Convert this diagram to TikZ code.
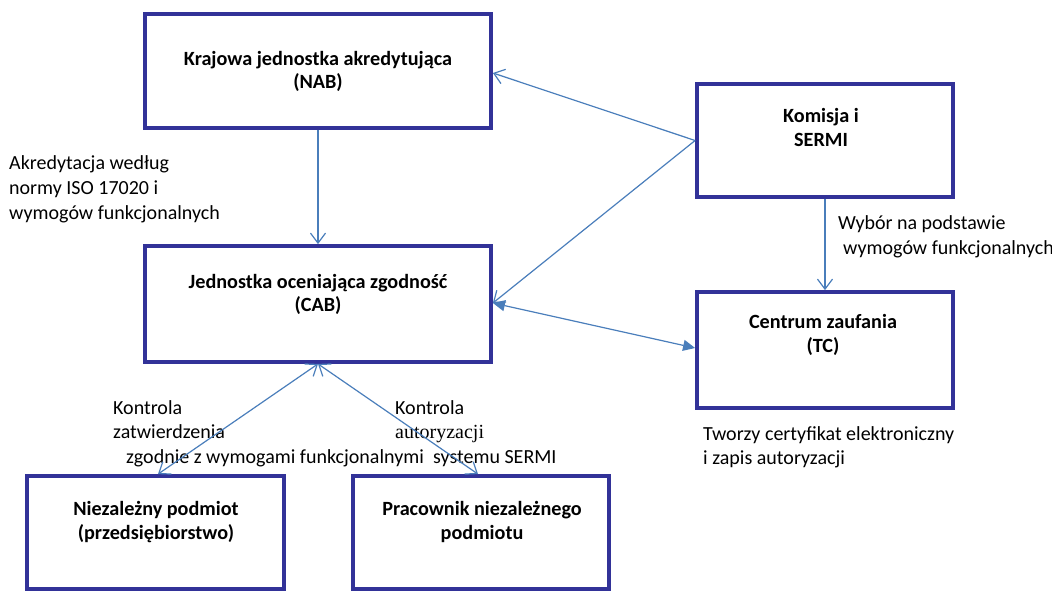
\documentclass[tikz,border=0pt]{standalone}
\usepackage{fontspec}
\setmainfont{Carlito}
\newfontfamily\serifalt{Liberation Serif}
\usetikzlibrary{arrows.meta}
\definecolor{boxblue}{RGB}{50,50,152}
\definecolor{arrblue}{RGB}{74,126,187}
\tikzset{
  box/.style={draw=boxblue, line width=3.8pt, fill=none, inner sep=0pt},
  btxt/.style={anchor=base, inner sep=0pt, font=\fontsize{20.2}{23}\selectfont\bfseries},
  ltxt/.style={anchor=base west, inner sep=0pt, font=\fontsize{20}{25}\selectfont},
  conn/.style={draw=arrblue, line width=1.2pt},
  openhead/.style={-{Straight Barb[length=10pt,width=15pt,line width=1.2pt]}},
  openboth/.style={{Straight Barb[length=10pt,width=15pt,line width=1.2pt]}-{Straight Barb[length=10pt,width=15pt,line width=1.2pt]}},
  fillboth/.style={{Triangle[length=12pt,width=11pt]}-{Triangle[length=12pt,width=11pt]}}
}
\begin{document}
\begin{tikzpicture}[x=1pt,y=-1pt]
\useasboundingbox (0,0) rectangle (1052,590);
% boxes
\node[box, minimum width=346pt, minimum height=114pt] (nab) at (318,71) {};
\node[box, minimum width=346pt, minimum height=116pt] (cab) at (318,304) {};
\node[box, minimum width=256pt, minimum height=113pt] (kom) at (825,140.5) {};
\node[box, minimum width=256pt, minimum height=116pt] (tc) at (825,350) {};
\node[box, minimum width=257pt, minimum height=113pt] (niez) at (155.5,532.5) {};
\node[box, minimum width=256pt, minimum height=113pt] (prac) at (481,532.5) {};
% box texts
\node[btxt] (nab1) at (318,65) {Krajowa jednostka akredytująca};
\node[btxt] (nab2) at (318,88) {(NAB)};
\node[btxt] (cab1) at (318,288) {Jednostka oceniająca zgodność};
\node[btxt] (cab2) at (318,311) {(CAB)};
\node[btxt] (kom1) at (821,122) {Komisja i};
\node[btxt] (kom2) at (821,146) {SERMI};
\node[btxt] (tc1) at (823,328) {Centrum zaufania};
\node[btxt] (tc2) at (823,352) {(TC)};
\node[btxt] (niez1) at (156,515) {Niezależny podmiot};
\node[btxt] (niez2) at (156,539) {(przedsiębiorstwo)};
\node[btxt] (prac1) at (482,515) {Pracownik niezależnego};
\node[btxt] (prac2) at (482,539) {podmiotu};
% labels
\node[ltxt] (a1) at (9,169) {Akredytacja według};
\node[ltxt] (a2) at (9,194) {normy ISO 17020 i};
\node[ltxt] (a3) at (9,219) {wymogów funkcjonalnych};
\node[ltxt] (w1) at (838,229) {Wybór na podstawie};
\node[ltxt] (w2) at (843,254) {wymogów funkcjonalnych};
\node[ltxt] (t1) at (703,440) {Tworzy certyfikat elektroniczny};
\node[ltxt] (t2) at (703,464) {i zapis autoryzacji};
\node[ltxt] (k1) at (113,414) {Kontrola};
\node[ltxt] (k2) at (113,438) {zatwierdzenia};
\node[ltxt] (k3) at (126,463) {zgodnie z wymogami funkcjonalnymi};
\node[ltxt] (r1) at (395,414) {Kontrola};
\node[ltxt, font=\fontsize{20}{25}\selectfont\serifalt] (r2) at (395,438) {autoryzacji};
\node[ltxt] (r3) at (433,463) {systemu SERMI};
% connectors
\draw[conn, openhead] (nab.south) -- (cab.north);
\draw[conn, openhead] (kom.west) -- ([yshift=-2pt]nab.east);
\draw[conn, openhead] (kom.west) -- ([yshift=1pt]cab.east);
\draw[conn, openhead] (kom.south) -- (tc.north);
\draw[conn, fillboth] ([yshift=1pt]cab.east) -- ([yshift=2pt]tc.west);
\draw[conn, openboth] (cab.south) -- ([xshift=2.5pt]niez.north);
\draw[conn, openboth] (cab.south) -- ([xshift=-3pt]prac.north);
\end{tikzpicture}
\end{document}
